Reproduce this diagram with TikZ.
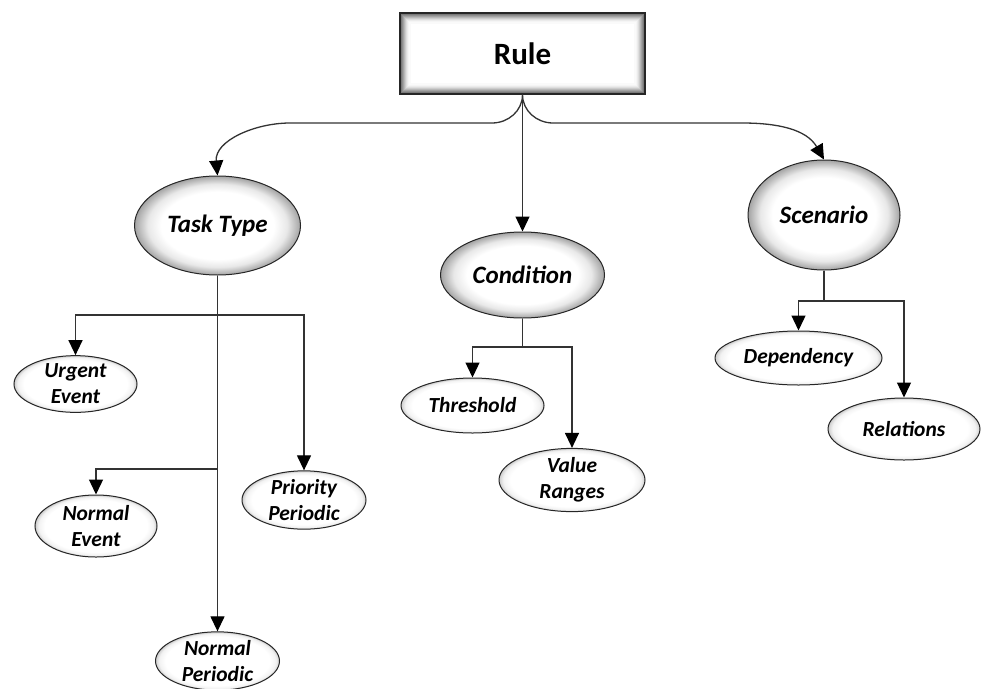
\documentclass[tikz,border=0pt]{standalone}
\usepackage{fontspec}
\setmainfont{Carlito}
\usetikzlibrary{shapes.geometric,arrows.meta}

% soft inner glow for the ellipses: white core, grey rim
\pgfdeclareradialshading{mainglow}{\pgfpoint{0bp}{0bp}}{%
  color(0bp)=(white); color(17bp)=(white); color(21bp)=(black!9);
  color(25bp)=(black!36); color(50bp)=(black!36)}
\pgfdeclareradialshading{leafglow}{\pgfpoint{0bp}{0bp}}{%
  color(0bp)=(white); color(21bp)=(white); color(23.5bp)=(black!5);
  color(25bp)=(black!20); color(50bp)=(black!20)}

\tikzset{
  link/.style={draw=black!80, line width=1.3pt,
    -{Triangle[length=15pt,width=14pt,fill=black,color=black]}},
  trunk/.style={draw=black!80, line width=1.3pt},
  mainnode/.style={ellipse, draw=black!85, line width=1pt, inner sep=0pt,
    shading=mainglow, font=\fontsize{25}{28}\selectfont\bfseries\itshape},
  leafnode/.style={ellipse, draw=black!85, line width=1pt, inner sep=0pt,
    shading=leafglow, align=center,
    font=\fontsize{21.5}{26}\selectfont\bfseries\itshape},
  rulebox/.style={rectangle, draw=black!85, line width=1.3pt, fill=white,
    inner sep=0pt, font=\fontsize{31}{34}\selectfont\bfseries,
    path picture={
      \foreach \i/\c in {1/60,2/52,3/44,4/36,5/28,6/20,7/13,8/8,9/4,10/2}{
        \draw[black!\c, line width=1.1pt]
          ([xshift=\i pt, yshift=\i pt]path picture bounding box.south west)
          rectangle
          ([xshift=-\i pt, yshift=-\i pt]path picture bounding box.north east);
      }}},
}

\begin{document}
\begin{tikzpicture}[x=1pt, y=-1pt]
\useasboundingbox (0,0) rectangle (981,688);

% root
\node[rulebox, minimum width=245pt, minimum height=81pt] (rule) at (522.5,53.5) {Rule};

% first level
\node[mainnode, minimum width=166pt, minimum height=99pt] (task) at (217.5,225.5) {Task Type};
\node[mainnode, minimum width=164pt, minimum height=86pt] (condition) at (522.5,275) {Condition};
\node[mainnode, minimum width=152pt, minimum height=110pt] (scenario) at (824,215) {Scenario};

% leaves
\node[leafnode, minimum width=123pt, minimum height=52pt] (urgent) at (75.5,384) {Urgent\\Event};
\node[leafnode, minimum width=122pt, minimum height=62pt] (normalevent) at (96,526) {Normal\\Event};
\node[leafnode, minimum width=124pt, minimum height=56pt] (priority) at (304,500) {Priority\\Periodic};
\node[leafnode, minimum width=124pt, minimum height=56pt] (normalperiodic) at (217.5,661) {Normal\\Periodic};
\node[leafnode, minimum width=143pt, minimum height=55pt] (threshold) at (472.5,405.5) {Threshold};
\node[leafnode, minimum width=146pt, minimum height=60pt] (valueranges) at (572,480) {Value\\Ranges};
\node[leafnode, minimum width=167pt, minimum height=54pt] (dependency) at (798.5,358) {Dependency};
\node[leafnode, minimum width=152pt, minimum height=62pt] (relations) at (904,429) {Relations};

% root connectors
\draw[link] (rule.south) to[out=-90,in=0] (492,123) -- (290,123)
  to[out=180,in=95] (task.north);
\draw[link] (rule.south) -- (condition.north);
\draw[link] (rule.south) to[out=-90,in=180] (553,123) -- (742,123)
  to[out=0,in=120] (scenario.north);

% task type branches
\coordinate (tj1) at (217.5,315);
\coordinate (tj2) at (217.5,469);
\draw[link] (task.south) -- (normalperiodic.north);
\draw[link] (tj1) -| (urgent.north);
\draw[link] (tj1) -| (priority.north);
\draw[link] (tj2) -| (normalevent.north);

% condition branches
\coordinate (cj) at (522.5,347);
\draw[trunk] (condition.south) -- (cj);
\draw[link] (cj) -| (threshold.north);
\draw[link] (cj) -| (valueranges.north);

% scenario branches
\coordinate (sj) at (824,301);
\draw[trunk] (scenario.south) -- (sj);
\draw[link] (sj) -| (dependency.north);
\draw[link] (sj) -| (relations.north);
\end{tikzpicture}
\end{document}
